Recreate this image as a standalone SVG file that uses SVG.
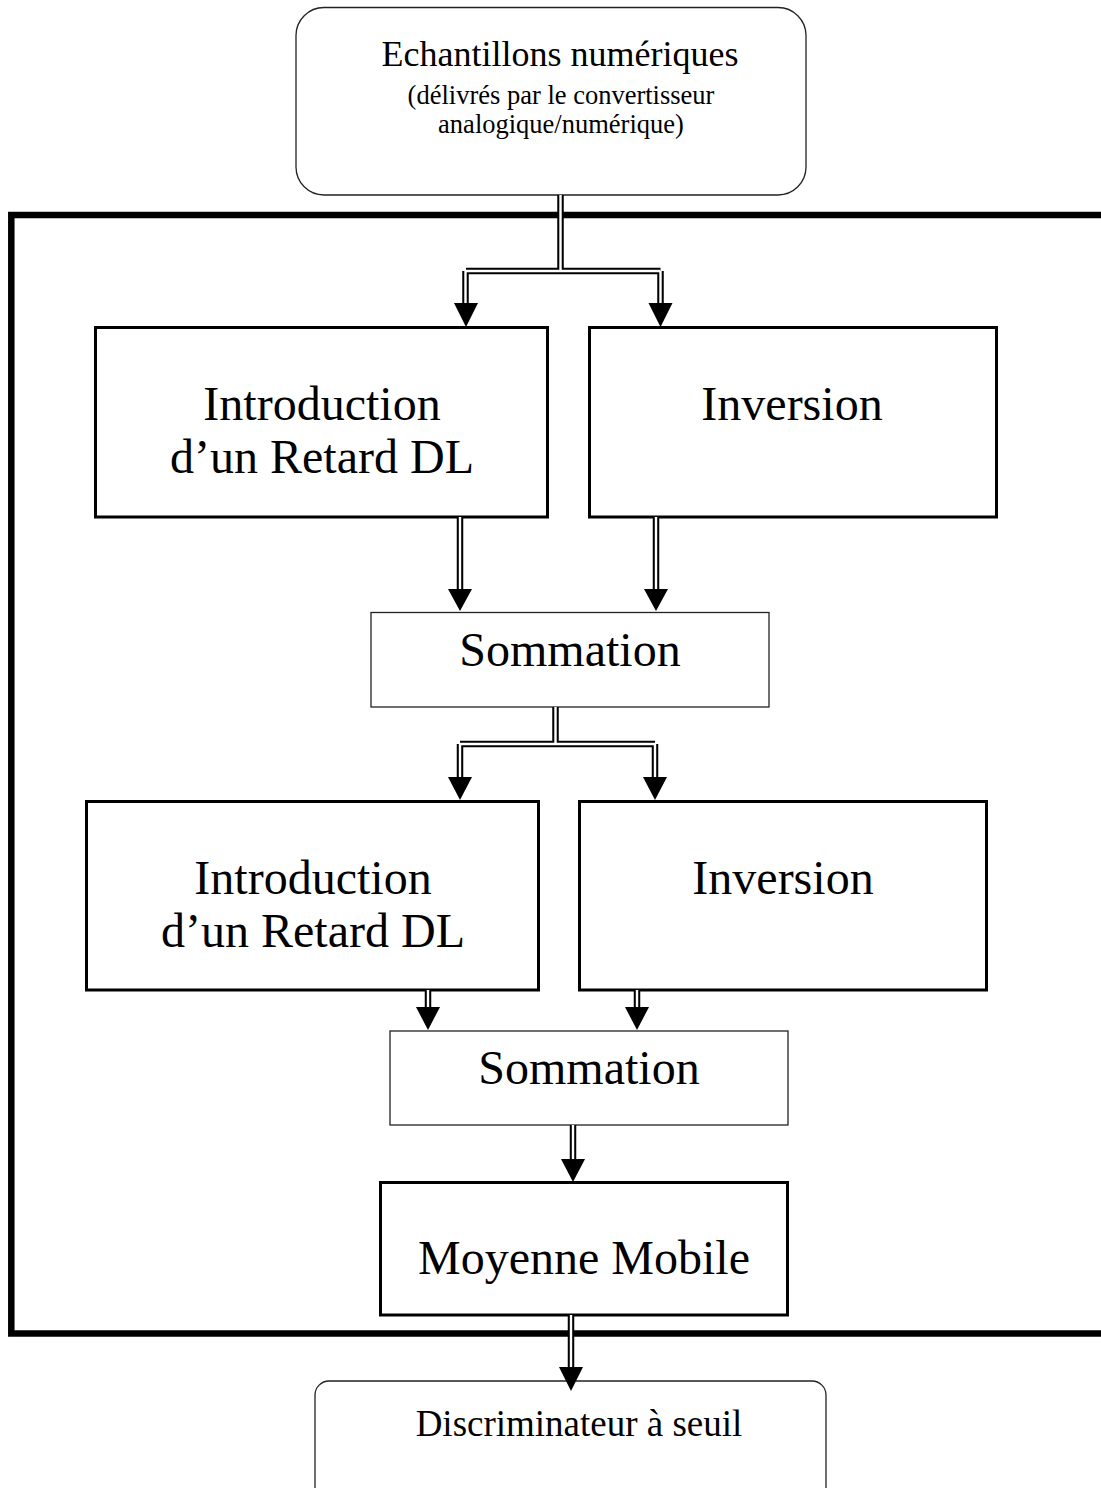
<svg xmlns="http://www.w3.org/2000/svg" xmlns:xlink="http://www.w3.org/1999/xlink" width="1101" height="1488" viewBox="0 0 1101 1488">
<style>
text{font-family:"Liberation Serif","Times New Roman",serif;fill:#000;text-anchor:middle}
.big{font-size:48px}
.mid{font-size:36px}
.disc{font-size:37px}
.small{font-size:26.5px}
.thick{fill:#fff;stroke:#000;stroke-width:3}
.thin{fill:#fff;stroke:#222;stroke-width:1.3}
.outer{fill:none;stroke:#000;stroke-width:6.5}
.inner{fill:none;stroke:#fff;stroke-width:2.4}
.head{fill:#000}
</style>
<defs>
<path id="p1" d="M560.5,195V271M466,271H660.5M465.5,271V304M660.5,271V304"/>
<path id="p2" d="M460,517V590M656,517V590"/>
<path id="p3" d="M555.5,707V744M460,744H655M460,744V778M655,744V778"/>
<path id="p4" d="M428,990V1008M637,990V1008"/>
<path id="p5" d="M573,1125V1160"/>
<path id="p6" d="M571,1315V1368"/>
</defs>
<rect width="1101" height="1488" fill="#fff"/>
<rect id="frame" x="11.3" y="215" width="1110" height="1118.5" fill="none" stroke="#000" stroke-width="6.5"/>

<g id="source">
<rect x="296" y="7.5" width="510" height="187.5" rx="28" ry="28" class="thin"/>
<text class="mid" x="560" y="66">Echantillons numériques</text>
<text class="small" x="561" y="103.5">(délivrés par le convertisseur</text>
<text class="small" x="561" y="133">analogique/numérique)</text>
</g>

<g id="delay1">
<rect x="95.5" y="327.5" width="452" height="189.5" class="thick"/>
<text class="big" x="322" y="420">Introduction</text>
<text class="big" x="322" y="473">d’un Retard DL</text>
</g>
<g id="inversion1">
<rect x="589.5" y="327.5" width="407" height="189.5" class="thick"/>
<text class="big" x="792" y="420">Inversion</text>
</g>
<g id="sum1">
<rect x="371" y="612.5" width="398" height="94.5" class="thin"/>
<text class="big" x="570" y="666">Sommation</text>
</g>
<g id="delay2">
<rect x="86.5" y="801.5" width="452" height="188.5" class="thick"/>
<text class="big" x="313" y="894">Introduction</text>
<text class="big" x="313" y="947">d’un Retard DL</text>
</g>
<g id="inversion2">
<rect x="579.5" y="801.5" width="407" height="188.5" class="thick"/>
<text class="big" x="783" y="894">Inversion</text>
</g>
<g id="sum2">
<rect x="390" y="1031" width="398" height="94" class="thin"/>
<text class="big" x="589" y="1084">Sommation</text>
</g>
<g id="moving-average">
<rect x="380.5" y="1182.5" width="407" height="132.5" class="thick"/>
<text class="big" x="584" y="1274">Moyenne Mobile</text>
</g>
<g id="discriminator">
<rect x="315" y="1381" width="511" height="120" rx="14" ry="14" class="thin"/>
<text class="disc" x="579" y="1436">Discriminateur à seuil</text>
</g>

<g id="connectors">
<use xlink:href="#p1" class="outer"/><use xlink:href="#p1" class="inner"/>
<use xlink:href="#p2" class="outer"/><use xlink:href="#p2" class="inner"/>
<use xlink:href="#p3" class="outer"/><use xlink:href="#p3" class="inner"/>
<use xlink:href="#p4" class="outer"/><use xlink:href="#p4" class="inner"/>
<use xlink:href="#p5" class="outer"/><use xlink:href="#p5" class="inner"/>
<use xlink:href="#p6" class="outer"/><use xlink:href="#p6" class="inner"/>
<polygon class="head" points="454,303 478,303 466,327"/>
<polygon class="head" points="648.5,303 672.5,303 660.5,327"/>
<polygon class="head" points="448,589 472,589 460,611"/>
<polygon class="head" points="644,589 668,589 656,611"/>
<polygon class="head" points="448,777 472,777 460,800"/>
<polygon class="head" points="643,777 667,777 655,800"/>
<polygon class="head" points="416,1007 440,1007 428,1030"/>
<polygon class="head" points="625,1007 649,1007 637,1030"/>
<polygon class="head" points="561,1159 585,1159 573,1182"/>
<polygon class="head" points="559,1367 583,1367 571,1391"/>
</g>
</svg>
